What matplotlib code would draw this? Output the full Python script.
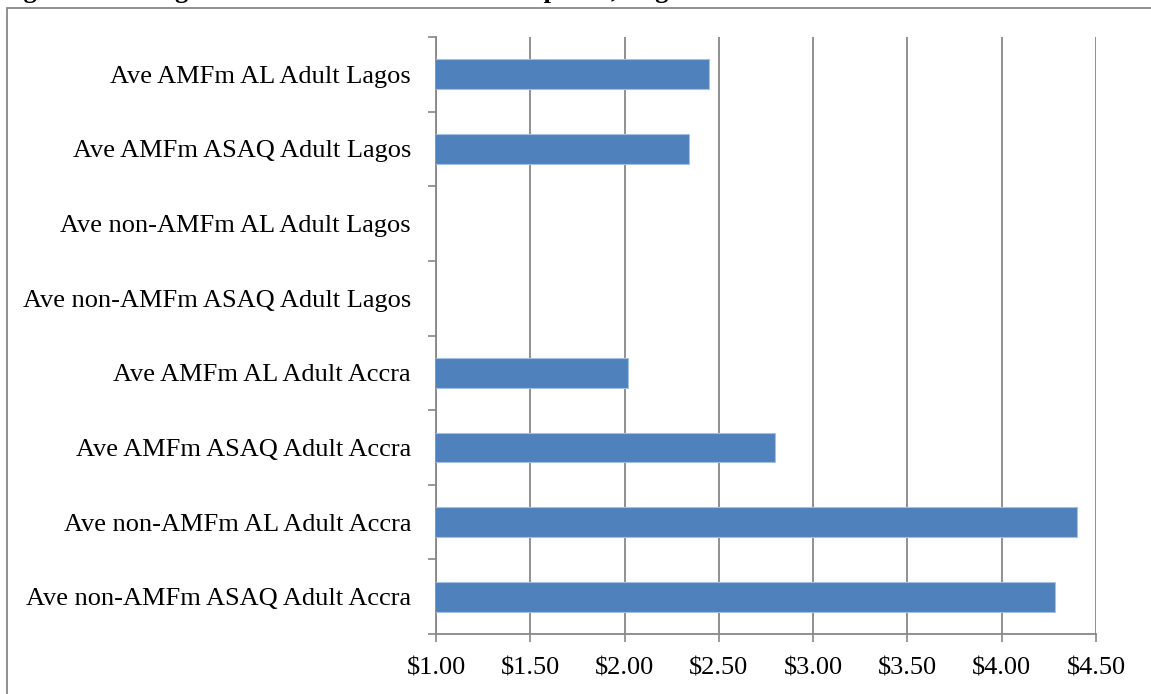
import numpy as np
import matplotlib
matplotlib.use("Agg")
import matplotlib.pyplot as plt
from matplotlib.patches import Rectangle

categories = [
    "Ave AMFm AL Adult Lagos",
    "Ave AMFm ASAQ Adult Lagos",
    "Ave non-AMFm AL Adult Lagos",
    "Ave non-AMFm ASAQ Adult Lagos",
    "Ave AMFm AL Adult Accra",
    "Ave AMFm ASAQ Adult Accra",
    "Ave non-AMFm AL Adult Accra",
    "Ave non-AMFm ASAQ Adult Accra",
]
values = [2.45, 2.34, np.nan, np.nan, 2.02, 2.80, 4.40, 4.28]
xticks = [1.0, 1.5, 2.0, 2.5, 3.0, 3.5, 4.0, 4.5]
xticklabels = ["$1.00", "$1.50", "$2.00", "$2.50", "$3.00", "$3.50", "$4.00", "$4.50"]
title = "Figure 4: Average AMFm and non-AMFm ACT prices, Lagos and Accra"

W, H = 1151, 694
fig = plt.figure(figsize=(W / 100, H / 100), dpi=100)
plt.rcParams['font.family'] = ['Liberation Serif', 'DejaVu Serif']

gray = "#878787"
ax = fig.add_axes([436 / W, 1 - 634 / H, (1096 - 436) / W, (634 - 37) / H])

n = len(categories)
ypos = np.arange(n)
ax.barh(ypos, values, height=0.4, color="#4F81BD", edgecolor="#A7C0E0",
        linewidth=0.8, zorder=3)
ax.set_xlim(1.0, 4.5)
ax.set_ylim(n - 0.5, -0.5)

ax.set_xticks(xticks)
ax.set_xticklabels(xticklabels, fontsize=19)
ax.set_yticks(ypos)
ax.set_yticklabels(categories, fontsize=19)
ax.tick_params(axis='y', length=0, pad=18)
ax.set_yticks(np.arange(n + 1) - 0.5, minor=True)
ax.tick_params(axis='y', which='minor', length=6, width=1.2, color=gray)
ax.tick_params(axis='x', length=6, width=1.2, color=gray, pad=11)

ax.grid(axis='x', color=gray, linewidth=1.3, zorder=0)
ax.set_axisbelow(True)
for s in ['top', 'right']:
    ax.spines[s].set_visible(False)
for s in ['left', 'bottom']:
    ax.spines[s].set_color(gray)
    ax.spines[s].set_linewidth(1.3)

# outer chart border
fig.patches.append(Rectangle((7.5 / W, -0.05), 1.2, 1 - 7.5 / H + 0.05,
                             transform=fig.transFigure, fill=False,
                             edgecolor=gray, linewidth=1.3))

fig.text(0.0, 1 + 1.5 / H, title, fontsize=19, fontweight='bold',
         va='baseline', ha='left')

fig.savefig("out.png", dpi=100)
